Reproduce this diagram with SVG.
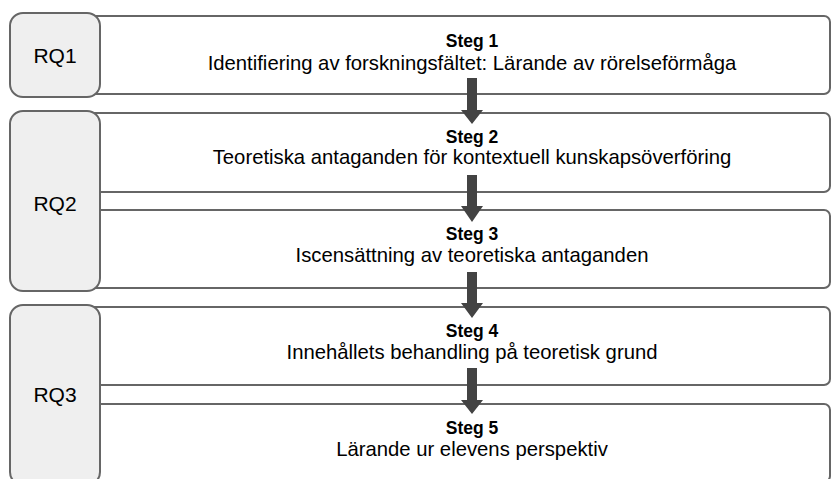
<svg xmlns="http://www.w3.org/2000/svg" width="832" height="479" viewBox="0 0 832 479">
<defs>
<style>
.step{fill:#ffffff;stroke:#666666;stroke-width:2}
.rq{fill:#efefef;stroke:#666666;stroke-width:2}
.rqt{font-family:"Liberation Sans",Arial,sans-serif;font-size:21px;fill:#000;text-anchor:middle}
.st{font-family:"Liberation Sans",Arial,sans-serif;font-size:17.5px;font-weight:bold;fill:#000;text-anchor:middle}
.mt{font-family:"Liberation Sans",Arial,sans-serif;font-size:20.3px;fill:#000;text-anchor:middle}
.arr{fill:#434343}
</style>
</defs>
<rect width="832" height="479" fill="#ffffff"/>
<g id="step1"><rect class="step" x="60" y="16" width="770" height="78" rx="6"/><text class="st" x="472" y="47">Steg 1</text><text class="mt" x="472" y="70">Identifiering av forskningsfältet: Lärande av rörelseförmåga</text></g>
<g id="step2"><rect class="step" x="60" y="113" width="770" height="79" rx="6"/><text class="st" x="472" y="143">Steg 2</text><text class="mt" x="472" y="164">Teoretiska antaganden för kontextuell kunskapsöverföring</text></g>
<g id="step3"><rect class="step" x="60" y="210" width="770" height="78" rx="6"/><text class="st" x="472" y="240">Steg 3</text><text class="mt" x="472" y="262">Iscensättning av teoretiska antaganden</text></g>
<g id="step4"><rect class="step" x="60" y="307" width="770" height="78" rx="6"/><text class="st" x="472" y="337">Steg 4</text><text class="mt" x="472" y="359">Innehållets behandling på teoretisk grund</text></g>
<g id="step5"><rect class="step" x="60" y="404" width="770" height="78" rx="6"/><text class="st" x="472" y="434">Steg 5</text><text class="mt" x="472" y="456">Lärande ur elevens perspektiv</text></g>
<g id="rq1"><rect class="rq" x="10" y="13" width="90" height="84" rx="13"/><text class="rqt" x="55" y="63">RQ1</text></g>
<g id="rq2"><rect class="rq" x="10" y="111" width="90" height="180" rx="13"/><text class="rqt" x="55" y="211">RQ2</text></g>
<g id="rq3"><rect class="rq" x="10" y="305" width="90" height="180" rx="13"/><text class="rqt" x="55" y="402">RQ3</text></g>
<g id="connectors">
<polygon class="arr" points="467,78 477,78 477,110 483,110 472,124 461,110 467,110"/>
<polygon class="arr" points="467,175 477,175 477,206 483,206 472,222 461,206 467,206"/>
<polygon class="arr" points="467,272 477,272 477,303 483,303 472,318 461,303 467,303"/>
<polygon class="arr" points="467,368 477,368 477,400 483,400 472,414 461,400 467,400"/>
</g>
</svg>
